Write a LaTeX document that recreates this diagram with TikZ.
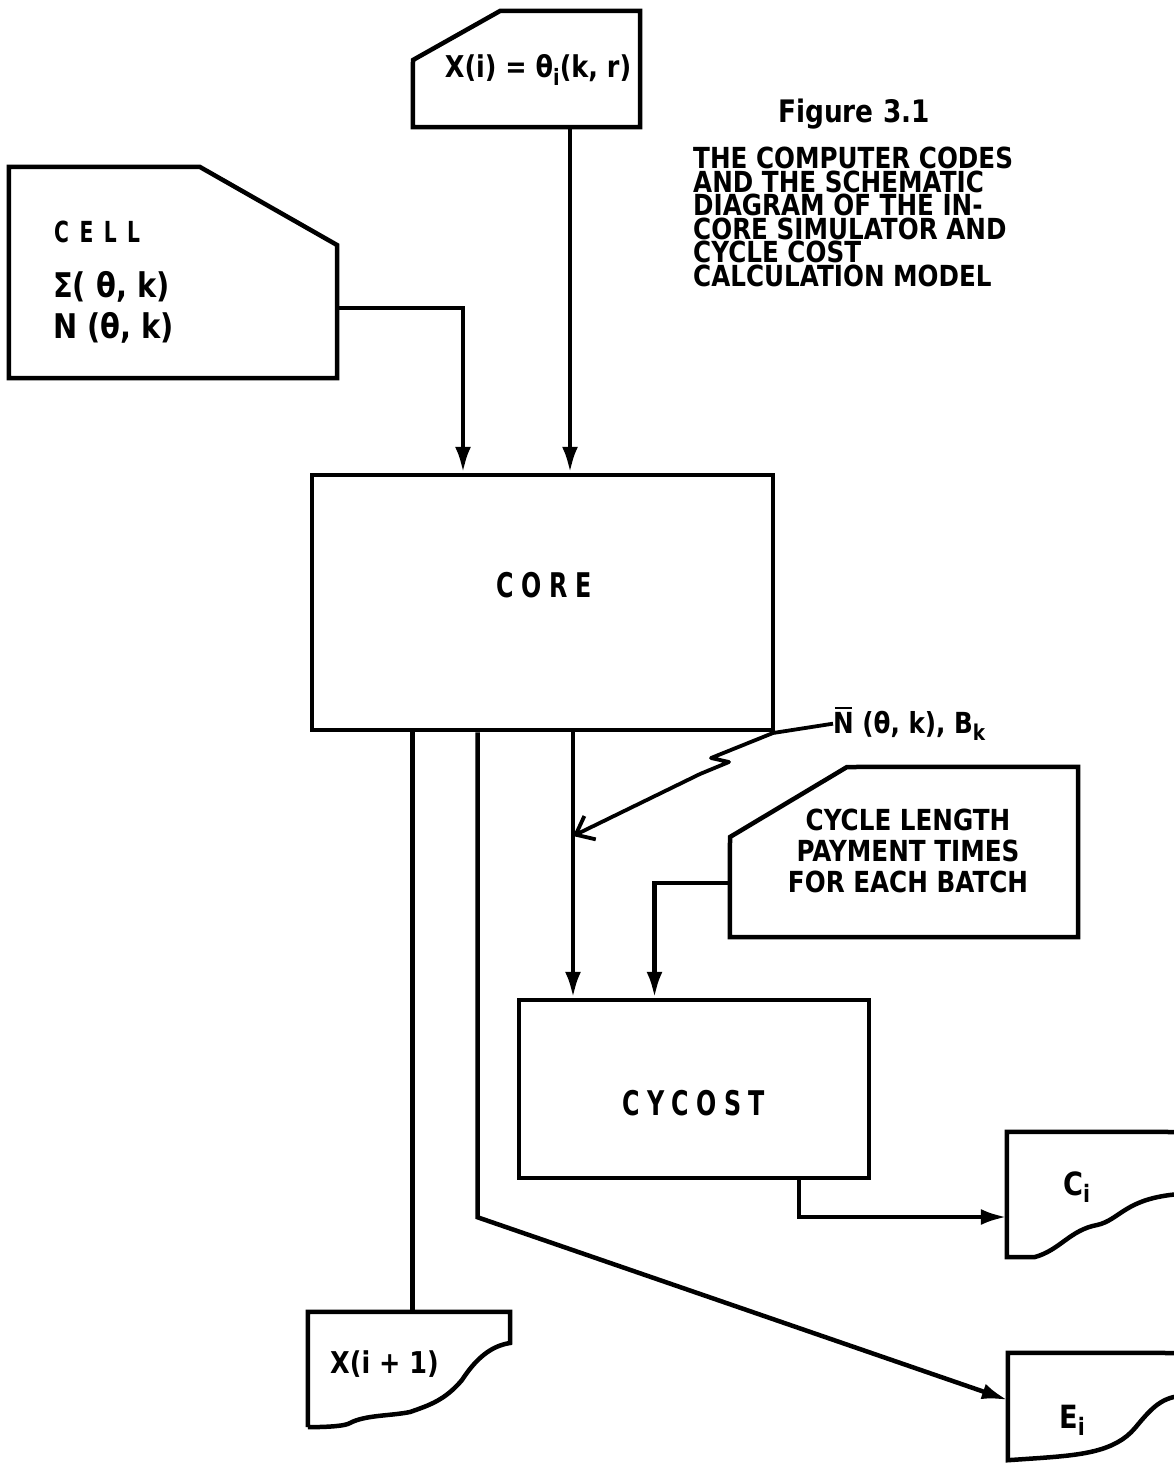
\documentclass[tikz,border=0pt]{standalone}
\usepackage{fontspec}
\setmainfont{DejaVu Sans}[FakeStretch=0.85]
\newfontfamily\spaced{DejaVu Sans}[FakeStretch=0.7,LetterSpace=22]
\usepackage{tikz}
\usetikzlibrary{arrows.meta, calc}

\newcommand{\lowsub}[1]{\raisebox{-0.45ex}{\scalebox{0.75}{#1}}}
\newcommand{\barN}{\leavevmode\rlap{\hbox to 0.71em{\hss\rule[0.82em]{0.6em}{0.07em}\hss}}N}

\tikzset{
  wire/.style={line width=4.5pt, line join=miter},
  arr/.style={wire, -{Latex[length=26pt,width=16pt]}},
  zap/.style={line width=3.8pt, line join=round, -{Straight Barb[length=16pt,width=26pt]}},
  slot/.style={inner sep=0pt},
  lab/.style={inner sep=0pt, font=\bfseries\fontsize{30}{30}\selectfont},
  boxlab/.style={inner sep=0pt, font=\spaced\bfseries\fontsize{34}{34}\selectfont},
}

\begin{document}
\begin{tikzpicture}[x=1pt, y=-1pt]
    \useasboundingbox (0,0) rectangle (1174,1463);

    % boxes
    \node[slot, minimum width=227pt, minimum height=116pt] (xin) at (526.5,69) {};
    \node[slot, minimum width=328pt, minimum height=211pt] (cell) at (173,272.5) {};
    \node[draw, wire, minimum width=461pt, minimum height=255pt] (core) at (542.5,602.5) {};
    \node[slot, minimum width=348pt, minimum height=170pt] (cyc) at (904,852) {};
    \node[draw, wire, minimum width=350pt, minimum height=178pt] (cycost) at (694,1089) {};
    \node[slot, minimum width=200pt, minimum height=125pt] (cout) at (1107,1194.5) {};
    \node[slot, minimum width=200pt, minimum height=107pt] (eout) at (1108,1406.5) {};
    \node[slot, minimum width=202pt, minimum height=115pt] (xnext) at (409,1369.5) {};

    \draw[wire] (xin.south west) -- (413,60) -- (500,11) -- (xin.north east) -- (xin.south east) -- cycle;
    \draw[wire] (cell.south west) -- (cell.north west) -- (200,167) -- (337,245) -- (cell.south east) -- cycle;
    \draw[wire] (cyc.south west) -- (730,837) -- (847,767) -- (cyc.north east) -- (cyc.south east) -- cycle;
    \draw[wire] (1180,1132) -- (cout.north west) -- (cout.south west) -- (1035,1257)
        .. controls (1060,1250) and (1070,1230) .. (1097,1225)
        .. controls (1120,1220) and (1125,1198) .. (1180,1194);
    \draw[wire] (1180,1353) -- (eout.north west) -- (eout.south west) -- (1040,1458)
        .. controls (1080,1455) and (1115,1452) .. (1135,1428)
        .. controls (1150,1410) and (1160,1398) .. (1180,1396);
    \draw[wire] (xnext.south west) -- (xnext.north west) -- (xnext.north east) -- (510,1343)
        .. controls (490,1346) and (475,1360) .. (462,1380)
        .. controls (445,1400) and (430,1405) .. (410,1412)
        .. controls (390,1416) and (365,1415) .. (350,1423)
        .. controls (345,1426) and (330,1427) .. (xnext.south west);

    % texts
    \node[lab] (xinlab) at (538,70) {X(i) = θ\lowsub{i}(k, r)};
    \node[lab, anchor=base, font=\bfseries\fontsize{31}{31}\selectfont] (fig) at (854,123) {Figure 3.1};
    \node[lab, anchor=north west, align=left, font=\bfseries\fontsize{29}{23.5}\selectfont] (caption) at (693,147)
        {THE COMPUTER CODES\\AND THE SCHEMATIC\\DIAGRAM OF THE IN-\\CORE SIMULATOR AND\\CYCLE COST\\CALCULATION MODEL};
    \node[boxlab, anchor=base west, font=\spaced\bfseries\addfontfeature{LetterSpace=36}\fontsize{29}{29}\selectfont] (cellname) at (54,243) {CELL};
    \node[lab, anchor=base west, font=\bfseries\fontsize{34}{34}\selectfont] (sigma) at (53,297) {Σ( θ, k)};
    \node[lab, anchor=base west, font=\bfseries\fontsize{34}{34}\selectfont] (dens) at (53,338) {N (θ, k)};
    \node[boxlab, anchor=base] (corename) at (544,597) {CORE};
    \node[boxlab, anchor=base] (cycostname) at (694,1115) {CYCOST};
    \node[lab, align=center, font=\bfseries\fontsize{29}{31}\selectfont] (cyclab) at (908,851)
        {CYCLE LENGTH\\PAYMENT TIMES\\FOR EACH BATCH};
    \node[lab, anchor=base west, font=\bfseries\fontsize{29}{29}\selectfont] (nlab) at (833,733) {\barN\ (θ, k), B\lowsub{k}};
    \node[lab, anchor=base west, font=\bfseries\fontsize{32}{32}\selectfont] (clab) at (1063,1195) {C\lowsub{i}};
    \node[lab, anchor=base west, font=\bfseries\fontsize{32}{32}\selectfont] (elab) at (1059,1428) {E\lowsub{i}};
    \node[lab, anchor=base west] (xnextlab) at (330,1373) {X(i + 1)};

    % connectors
    \coordinate (tap) at (573,836);
    \draw[arr] ([xshift=43.5pt]xin.south) -- ([xshift=43.5pt]xin.south |- core.north);
    \draw[arr] ([yshift=-35.5pt]cell.east) -| ([xshift=-79.5pt]core.north);
    \draw[arr] ([xshift=30.5pt]core.south) -- ([xshift=30.5pt]core.south |- cycost.north);
    \draw[wire] ([xshift=-130pt]core.south) -- ([xshift=-130pt]core.south |- xnext.north);
    \draw[arr] ([xshift=-65pt]core.south) -- ++(0,485) -- ([yshift=6.5pt]eout.west);
    \draw[arr] ([yshift=-31pt]cyc.west) -| ([xshift=-39.5pt]cycost.north);
    \draw[arr] ([xshift=105pt]cycost.south) |- ([yshift=-22.5pt]cout.west);
    \draw[zap] (nlab.west) -- (773,733) -- (711,758) -- (729,762) -- (700,774) -- (tap);
\end{tikzpicture}
\end{document}
